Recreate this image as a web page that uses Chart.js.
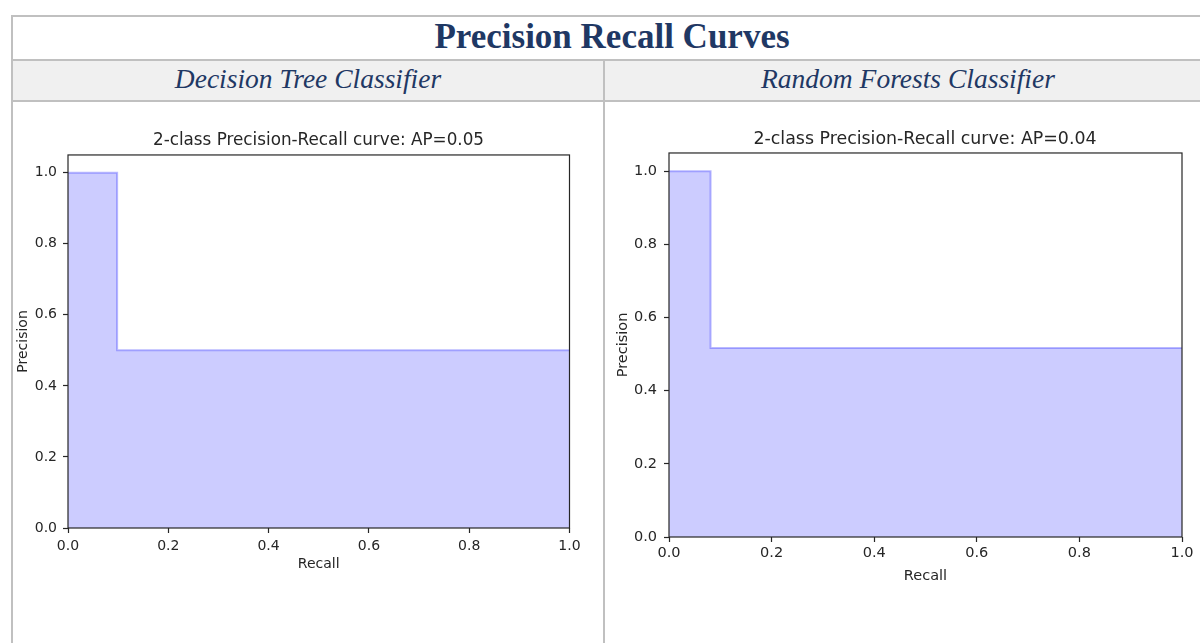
<!DOCTYPE html>
<html>
<head>
<meta charset="utf-8">
<title>Precision Recall Curves</title>
<script src="https://cdn.jsdelivr.net/npm/chart.js@4.4.1/dist/chart.umd.min.js"></script>
<style>
  html, body { margin: 0; padding: 0; }
  body { width: 1200px; height: 643px; overflow: hidden; background: #fff; position: relative; }
  .rule { position: absolute; background: #c0c0c0; }
  .page-title {
    position: absolute; left: 13px; top: 17px; width: 1198px; height: 42px;
    text-align: center; line-height: 40px;
    font-family: "Liberation Serif", "DejaVu Serif", serif; font-weight: bold;
    font-size: 35px; color: #1f3864;
  }
  .head {
    position: absolute; top: 61px; height: 39px; background: #f0f0f0;
    text-align: center; line-height: 36px;
    font-family: "Liberation Serif", "DejaVu Serif", serif; font-style: italic;
    font-size: 27.5px; color: #1f3864;
  }
  .panel { position: absolute; top: 102px; height: 541px; }
</style>
</head>
<body>
<div class="rule" style="left:11px;top:15px;width:1189px;height:2px"></div>
<div class="rule" style="left:11px;top:15px;width:2px;height:628px"></div>
<div class="page-title">Precision Recall Curves</div>
<div class="rule" style="left:13px;top:59px;width:1187px;height:2px"></div>
<div class="head" style="left:13px;width:590px">Decision Tree Classifier</div>
<div class="head" style="left:605px;width:606px">Random Forests Classifier</div>
<div class="rule" style="left:13px;top:100px;width:1187px;height:2px"></div>
<div class="rule" style="left:603px;top:61px;width:2px;height:582px"></div>

<div class="panel" style="left:13px;width:611px"><canvas id="dtChart" width="611" height="541"></canvas></div>
<div class="panel" style="left:605px;width:640px"><canvas id="rfChart" width="640" height="541"></canvas></div>

<script>
// Decision tree classifier: precision-recall steps
const dtRecall = [0.0, 0.098, 1.0];
const dtPrecision = [1.0, 0.5, 0.5];
const dtTitle = '2-class Precision-Recall curve: AP=0.05';

// Random forests classifier: precision-recall steps
const rfRecall = [0.0, 0.081, 1.0];
const rfPrecision = [1.0, 0.517, 0.517];
const rfTitle = '2-class Precision-Recall curve: AP=0.04';

// Axis ticks and limits shared by both panels
const recallTicks = [0.0, 0.2, 0.4, 0.6, 0.8, 1.0];
const precisionTicks = [0.0, 0.2, 0.4, 0.6, 0.8, 1.0];
const precisionMax = 1.05;

const INK = '#262626';
const FONT = '"DejaVu Sans", Verdana, sans-serif';

// Closed box around the plotting area (all four spines)
const spineBox = {
  id: 'spineBox',
  afterDatasetsDraw(chart) {
    const a = chart.chartArea, ctx = chart.ctx;
    ctx.save();
    ctx.strokeStyle = INK;
    ctx.lineWidth = 1.2;
    ctx.strokeRect(a.left, a.top, a.right - a.left, a.bottom - a.top);
    ctx.restore();
  }
};

function prChart(id, recall, precision, title, L) {
  const pts = recall.map((r, i) => ({ x: r, y: precision[i] }));
  return new Chart(document.getElementById(id), {
    type: 'line',
    data: {
      datasets: [{
        data: pts,
        stepped: 'before',
        fill: 'origin',
        backgroundColor: 'rgba(0,0,255,0.2)',
        borderColor: 'rgba(0,0,255,0.27)',
        borderWidth: 2,
        pointRadius: 0,
        pointHoverRadius: 0
      }]
    },
    plugins: [spineBox],
    options: {
      responsive: false,
      animation: false,
      events: [],
      layout: { padding: 0 },
      plugins: {
        legend: { display: false },
        tooltip: { enabled: false },
        title: {
          display: true,
          text: title,
          color: INK,
          font: { family: FONT, size: L.titleSize, weight: 'normal', lineHeight: 1.2 },
          padding: { top: L.titleTop, bottom: L.titleBottom }
        }
      },
      scales: {
        x: {
          type: 'linear',
          min: 0, max: 1,
          afterBuildTicks: s => { s.ticks = recallTicks.map(v => ({ value: v })); },
          afterFit: s => { s.height = L.xHeight; },
          ticks: {
            color: INK, padding: L.xPad,
            font: { family: FONT, size: L.tickSize },
            callback: v => Number(v).toFixed(1),
            maxRotation: 0
          },
          grid: { display: true, drawOnChartArea: false, drawTicks: true, tickLength: 5, tickColor: INK, tickWidth: 1.2 },
          border: { display: false },
          title: {
            display: true, text: 'Recall', color: INK,
            font: { family: FONT, size: L.tickSize, lineHeight: 1.2 },
            padding: { top: 0, bottom: L.xTitleBottom }
          }
        },
        y: {
          type: 'linear',
          min: 0, max: precisionMax,
          afterBuildTicks: s => { s.ticks = precisionTicks.map(v => ({ value: v })); },
          afterFit: s => { s.width = L.yWidth; },
          ticks: {
            color: INK, padding: L.yPad,
            font: { family: FONT, size: L.tickSize },
            callback: v => Number(v).toFixed(1)
          },
          grid: { display: true, drawOnChartArea: false, drawTicks: true, tickLength: 5, tickColor: INK, tickWidth: 1.2 },
          border: { display: false },
          title: {
            display: true, text: 'Precision', color: INK,
            font: { family: FONT, size: L.tickSize, lineHeight: 1.2 },
            padding: { top: L.yTitleTop, bottom: 0 }
          }
        },
        // empty right-hand margin so the panel title stays centred over the axes
        margin: {
          type: 'linear',
          position: 'right',
          afterFit: s => { s.width = L.rightMargin; },
          ticks: { display: false },
          grid: { display: false },
          border: { display: false }
        }
      }
    }
  });
}

prChart('dtChart', dtRecall, dtPrecision, dtTitle, {
  rightMargin: 54.5, titleSize: 16.8, titleTop: 28.9, titleBottom: 3.9,
  tickSize: 14, xHeight: 115, xPad: 5, xTitleBottom: 70.6, yWidth: 55, yPad: 6, yTitleTop: 2
});
prChart('rfChart', rfRecall, rfPrecision, rfTitle, {
  rightMargin: 63, titleSize: 17.4, titleTop: 26.6, titleBottom: 3.5,
  tickSize: 14.5, xHeight: 106, xPad: 3, xTitleBottom: 58.3, yWidth: 64, yPad: 7, yTitleTop: 9.3
});
</script>
</body>
</html>
